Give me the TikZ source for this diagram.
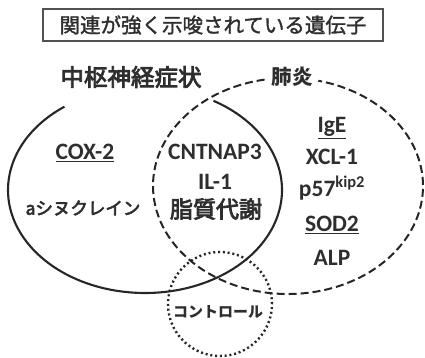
\documentclass[tikz,border=0pt]{standalone}
\usepackage{fontspec}
\setmainfont{Carlito}
\newfontfamily\jp{Noto Sans CJK JP}[FakeBold=1.5]
\newfontfamily\jpm{Noto Sans CJK JP}[FakeBold=3.5]
\newfontfamily\jpb{Noto Sans CJK JP}
\definecolor{ink}{HTML}{262626}
\definecolor{txt}{HTML}{2E2E2E}
\begin{document}
\begin{tikzpicture}[x=1pt,y=1pt,
  lat/.style={font=\fontsize{23.5}{23.5}\selectfont\bfseries, text=txt, anchor=base, inner sep=0pt},
  jpl/.style={text=txt, inner sep=0pt},
  solidring/.style={draw=ink, line width=2.1pt},
  dashring/.style={draw=ink, line width=2pt, dash pattern=on 8pt off 4pt},
  dotring/.style={draw=ink, line width=2.4pt, dash pattern=on 2pt off 2.8pt}]
\useasboundingbox (0,0) rectangle (425,358);
% title
\node[draw=ink!80, line width=1.2pt, minimum width=340pt, minimum height=32pt, inner sep=0pt,
      text=txt, font=\jp\fontsize{20.5}{20.5}\selectfont] (title) at (213,333) {関連が強く示唆されている遺伝子};
% rings
\draw[solidring] (145,168) ++(126:137 and 103) arc[start angle=126, end angle=420, x radius=137, y radius=103];
\draw[dashring] (288,172) ++(100:135 and 108) arc[start angle=100, end angle=437, x radius=135, y radius=108];
\draw[dotring] (220,54) circle[radius=52];
% labels
\node[jpl, font=\jpm\fontsize{23.5}{23.5}\selectfont] (cns) at (131,281) {中枢神経症状};
\node[jpl, font=\jpb\bfseries\fontsize{20.5}{20.5}\selectfont] (pn) at (292,281) {肺炎};
\node[lat] (cox) at (85,198) {\underline{COX-2}};
\node[jpl, font=\jpm\fontsize{17.5}{17.5}\selectfont] (syn) at (83,150) {aシヌクレイン};
\node[lat] (cnt) at (215,198) {CNTNAP3};
\node[lat] (il) at (215,168) {IL-1};
\node[jpl, font=\jpm\fontsize{23}{23}\selectfont] (lip) at (216,149) {脂質代謝};
\node[lat] (ige) at (332,225) {\underline{IgE}};
\node[lat] (xcl) at (332,193) {XCL-1};
\node[lat] (p57) at (332,161) {p57\textsuperscript{kip2}};
\node[lat] (sod) at (332,126) {\underline{SOD2}};
\node[lat] (alp) at (332,92) {ALP};
\node[jpl, font=\jpb\bfseries\fontsize{15}{15}\selectfont] (ctl) at (218,46) {コントロール};
\end{tikzpicture}
\end{document}
